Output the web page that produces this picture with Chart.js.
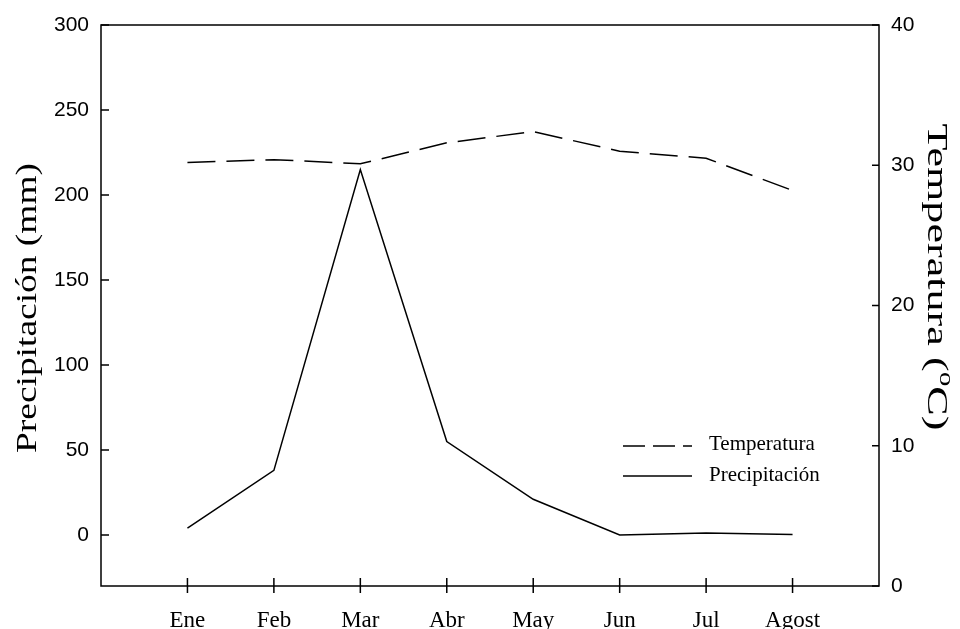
<!DOCTYPE html>
<html>
<head>
<meta charset="utf-8">
<script src="https://cdn.jsdelivr.net/npm/chart.js@4"></script>
<style>
  html, body { margin: 0; padding: 0; background: #fff; }
  #wrap { width: 960px; height: 629px; }
</style>
</head>
<body>
<div id="wrap"><canvas id="chart" width="960" height="629"></canvas></div>
<script>
// datos
const meses = ["Ene", "Feb", "Mar", "Abr", "May", "Jun", "Jul", "Agost"];
const temperatura = [30.2, 30.4, 30.1, 31.6, 32.4, 31.0, 30.5, 28.2];
const precipitacion = [4, 38, 215, 55, 21, 0, 1.2, 0.3];
const ticksPrecip = [0, 50, 100, 150, 200, 250, 300];
const ticksTemp = [0, 10, 20, 30, 40];

const SERIF = "'Liberation Serif', 'Times New Roman', serif";
const SANS = "'Liberation Sans', Arial, sans-serif";

// marco, marcas de ejes, títulos y leyenda
const marco = {
  id: "marco",
  afterDraw(chart) {
    const ctx = chart.ctx;
    const a = chart.chartArea;
    const sx = chart.scales.x, sy = chart.scales.y, sy1 = chart.scales.y1;
    ctx.save();
    ctx.strokeStyle = "#000";
    ctx.lineWidth = 1.5;
    ctx.strokeRect(a.left, a.top, a.right - a.left, a.bottom - a.top);

    ctx.beginPath();
    ticksPrecip.forEach(function (v) {
      const y = sy.getPixelForValue(v);
      ctx.moveTo(a.left, y); ctx.lineTo(a.left + 8, y);
    });
    ticksTemp.forEach(function (v) {
      const y = sy1.getPixelForValue(v);
      ctx.moveTo(a.right, y); ctx.lineTo(a.right - 7, y);
    });
    meses.forEach(function (m, i) {
      const x = sx.getPixelForValue(i + 1);
      ctx.moveTo(x, a.bottom - 8); ctx.lineTo(x, a.bottom + 7);
    });
    ctx.stroke();

    // título izquierdo
    ctx.fillStyle = "#000";
    ctx.save();
    ctx.translate(36, 308);
    ctx.rotate(-Math.PI / 2);
    ctx.font = "30px " + SERIF;
    const t1 = "Precipitación (mm)";
    const w1 = ctx.measureText(t1).width;
    ctx.scale(290 / w1, 1);
    ctx.textAlign = "center";
    ctx.textBaseline = "alphabetic";
    ctx.fillText(t1, 0, 0);
    ctx.restore();

    // título derecho con superíndice
    ctx.save();
    ctx.translate(928, 277);
    ctx.rotate(Math.PI / 2);
    ctx.font = "30px " + SERIF;
    ctx.textBaseline = "alphabetic";
    const pA = "Temperatura (", pO = "o", pB = "C)";
    const fSup = "20px " + SERIF;
    let wA = ctx.measureText(pA).width;
    let wB = ctx.measureText(pB).width;
    ctx.font = fSup;
    let wO = ctx.measureText(pO).width;
    const tot = wA + wO + wB;
    const k = 307 / tot;
    ctx.scale(k, 1);
    let x0 = -tot / 2;
    ctx.font = "30px " + SERIF;
    ctx.fillText(pA, x0, 0);
    ctx.font = fSup;
    ctx.fillText(pO, x0 + wA, -12);
    ctx.font = "30px " + SERIF;
    ctx.fillText(pB, x0 + wA + wO, 0);
    ctx.restore();

    // leyenda
    ctx.font = "21px " + SERIF;
    ctx.textBaseline = "middle";
    ctx.textAlign = "left";
    ctx.lineWidth = 1.3;
    ctx.setLineDash([22, 8]);
    ctx.beginPath(); ctx.moveTo(623, 446); ctx.lineTo(692, 446); ctx.stroke();
    ctx.setLineDash([]);
    ctx.beginPath(); ctx.moveTo(623, 476); ctx.lineTo(692, 476); ctx.stroke();
    ctx.fillText("Temperatura", 709, 444);
    ctx.fillText("Precipitación", 709, 475);
    ctx.restore();
  }
};

const ctx = document.getElementById("chart").getContext("2d");
new Chart(ctx, {
  type: "line",
  data: {
    datasets: [
      {
        label: "Temperatura",
        data: meses.map(function (m, i) { return { x: i + 1, y: temperatura[i] }; }),
        yAxisID: "y1",
        borderColor: "#000",
        borderWidth: 1.5,
        borderDash: [28, 11],
        pointRadius: 0,
        tension: 0,
        fill: false
      },
      {
        label: "Precipitación",
        data: meses.map(function (m, i) { return { x: i + 1, y: precipitacion[i] }; }),
        yAxisID: "y",
        borderColor: "#000",
        borderWidth: 1.5,
        pointRadius: 0,
        tension: 0,
        fill: false
      }
    ]
  },
  options: {
    responsive: false,
    animation: false,
    layout: { padding: { top: 25, left: 0, right: 0, bottom: 0 } },
    plugins: { legend: { display: false }, tooltip: { enabled: false } },
    scales: {
      x: {
        type: "linear",
        min: 0,
        max: 9,
        grid: { display: false, drawTicks: false },
        border: { display: false },
        afterBuildTicks: function (s) { s.ticks = meses.map(function (m, i) { return { value: i + 1 }; }); },
        afterFit: function (s) { s.height = 43; },
        ticks: {
          padding: 21,
          color: "#000",
          font: { family: SERIF, size: 23 },
          maxRotation: 0,
          autoSkip: false,
          callback: function (v) { return meses[v - 1]; }
        }
      },
      y: {
        position: "left",
        min: -30,
        max: 300,
        grid: { display: false, drawTicks: false },
        border: { display: false },
        afterBuildTicks: function (s) { s.ticks = ticksPrecip.map(function (v) { return { value: v }; }); },
        afterFit: function (s) { s.width = 101; },
        ticks: { padding: 12, color: "#000", font: { family: SANS, size: 21 } }
      },
      y1: {
        position: "right",
        min: 0,
        max: 40,
        grid: { display: false, drawTicks: false },
        border: { display: false },
        afterBuildTicks: function (s) { s.ticks = ticksTemp.map(function (v) { return { value: v }; }); },
        afterFit: function (s) { s.width = 81; },
        ticks: { padding: 12, color: "#000", font: { family: SANS, size: 21 } }
      }
    }
  },
  plugins: [marco]
});
</script>
</body>
</html>
